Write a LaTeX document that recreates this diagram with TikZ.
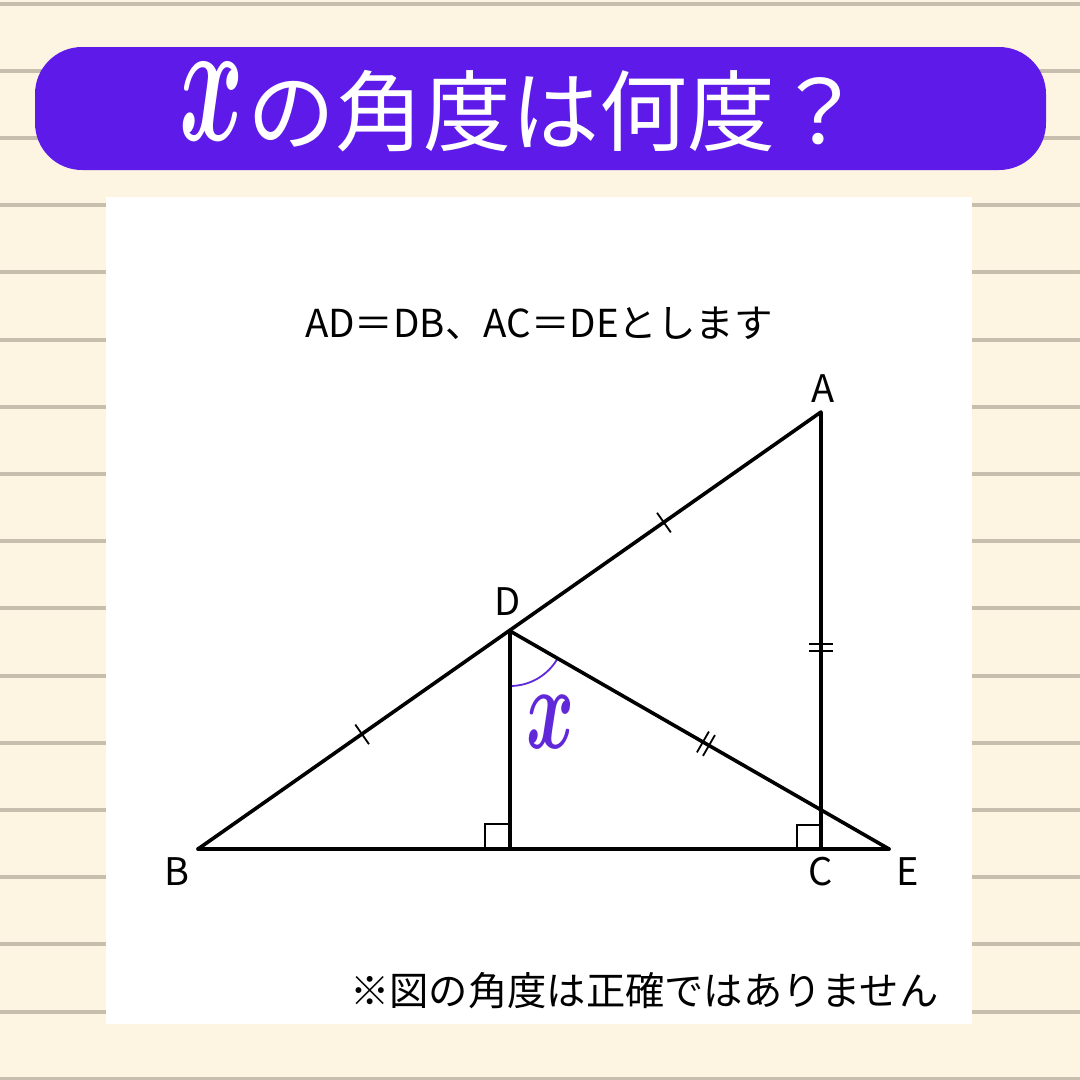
\documentclass[tikz,border=0pt]{standalone}
\usepackage{fontspec}
\usepackage{graphicx}
\setmainfont{Noto Sans CJK JP}
\usetikzlibrary{calc}
\definecolor{cream}{HTML}{FDF5E1}
\definecolor{ruleclr}{HTML}{C7BEAD}
\definecolor{titlepurple}{HTML}{5E1AE8}
\definecolor{anglepurple}{HTML}{6028D8}
\tikzset{
  edge/.style={line width=3.6pt, line cap=round, line join=round},
  tick/.style={line width=1.8pt},
  rightmark/.style={line width=1.8pt},
  ptlabel/.style={font=\fontsize{38}{40}\selectfont, inner sep=0pt, anchor=base},
}
\begin{document}
\begin{tikzpicture}[x=1pt,y=-1pt]
\useasboundingbox (0,0) rectangle (1080,1080);
% background
\fill[cream] (0,0) rectangle (1080,1080);
\foreach \i in {0,...,16} {
  \fill[ruleclr] (0,{1.5+67.2*\i}) rectangle (1080,{5.5+67.2*\i});
}
% title banner
\fill[titlepurple, rounded corners=47pt] (35,47) rectangle (1046,170);
\node[inner sep=0pt, text=white] (tx) at (212,102) {\scalebox{9.8}[17.5]{\boldmath$x$}};
\node[inner sep=0pt, anchor=base west, text=white, font=\fontsize{88}{90}\selectfont] (title) at (247,144) {の角度は何度？};
% white panel
\fill[white] (106,197) rectangle (972,1024);
% statement
\node[inner sep=0pt, anchor=base, font=\fontsize{38.5}{40}\selectfont] (cond) at (539,337) {AD＝DB、AC＝DEとします};
% points
\coordinate (A) at (821,412);
\coordinate (B) at (198,849);
\coordinate (C) at (821,849);
\coordinate (D) at (510,631);
\coordinate (E) at (889,849);
\coordinate (H) at (510,849);
% right-angle marks
\draw[rightmark] (H) ++(-25,0) -- ++(0,-25) -- ++(25,0);
\draw[rightmark] (C) ++(-24,0) -- ++(0,-24) -- ++(24,0);
% angle arc
\draw[anglepurple, line width=1.8pt] (D) ++(0,55) arc[start angle=-90, end angle=-29.9, radius=55pt];
% triangle edges
\draw[edge] (B) -- (A) -- (C);
\draw[edge] (B) -- (E);
\draw[edge] (D) -- (E);
\draw[edge] (D) -- (H);
% tick marks
\draw[tick] ($(D)!0.495!(A)!12pt!90:(A)$) -- ($(D)!0.495!(A)!12pt!-90:(A)$);
\draw[tick] ($(D)!0.474!(B)!12pt!90:(B)$) -- ($(D)!0.474!(B)!12pt!-90:(B)$);
\draw[tick] ($(A)!0.538!(C)!-3.5pt!(C)!12pt!90:(C)$) -- ($(A)!0.538!(C)!-3.5pt!(C)!12pt!-90:(C)$);
\draw[tick] ($(A)!0.538!(C)!3.5pt!(C)!12pt!90:(C)$) -- ($(A)!0.538!(C)!3.5pt!(C)!12pt!-90:(C)$);
\draw[tick] ($(D)!0.517!(E)!-3.5pt!(E)!12pt!90:(E)$) -- ($(D)!0.517!(E)!-3.5pt!(E)!12pt!-90:(E)$);
\draw[tick] ($(D)!0.517!(E)!3.5pt!(E)!12pt!90:(E)$) -- ($(D)!0.517!(E)!3.5pt!(E)!12pt!-90:(E)$);
% labels
\node[ptlabel] (lA) at (823,402) {A};
\node[ptlabel] (lB) at (177,885) {B};
\node[ptlabel] (lC) at (821,885) {C};
\node[ptlabel] (lD) at (508,615) {D};
\node[ptlabel] (lE) at (908,885) {E};
\node[inner sep=0pt, text=anglepurple] (lx) at (551,722) {\scalebox{7.3}[11.9]{\boldmath$x$}};
% note
\node[inner sep=0pt, anchor=base west, font=\fontsize{39.3}{41}\selectfont] (note) at (350,1005) {※図の角度は正確ではありません};
\end{tikzpicture}
\end{document}
